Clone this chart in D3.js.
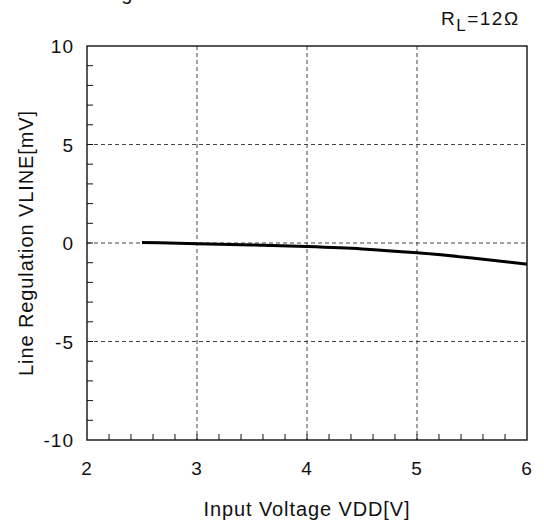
<!DOCTYPE html>
<html>
<head>
<meta charset="utf-8">
<script src="https://cdn.jsdelivr.net/npm/d3@7"></script>
<style>
  body { margin: 0; background: #fff; }
  svg text { font-family: "Liberation Sans", Arial, sans-serif; fill: #111; }
</style>
</head>
<body>
<div id="chart"></div>
<script>
// curve
var vdd = [2.5, 3, 3.5, 4, 4.5, 5, 5.5, 6]
var vline = [0.03, -0.04, -0.1, -0.18, -0.3, -0.5, -0.76, -1.07]

var xTicks = [2, 3, 4, 5, 6]
var yTicks = [-10, -5, 0, 5, 10]

var width = 544, height = 522
var margin = {left: 87, right: 17, top: 46, bottom: 82}

var svg = d3.select('#chart').append('svg')
  .attr('width', width).attr('height', height)

var x = d3.scaleLinear().domain([2, 6]).range([margin.left, width - margin.right])
var y = d3.scaleLinear().domain([-10, 10]).range([height - margin.bottom, margin.top])

// title, mostly off the top of the picture
svg.append('text').attr('x', 46).attr('y', 0)
  .style('font-size', '20px').style('letter-spacing', '0.9px').text('Line Regulation')

// grid
svg.append('g').selectAll('line')
  .data(xTicks.slice(1, -1)).join('line')
  .attr('x1', d => x(d)).attr('x2', d => x(d))
  .attr('y1', y(10)).attr('y2', y(-10))
  .attr('stroke', '#444').attr('stroke-dasharray', '4,3')
svg.append('g').selectAll('line')
  .data(yTicks.slice(1, -1)).join('line')
  .attr('y1', d => y(d)).attr('y2', d => y(d))
  .attr('x1', x(2)).attr('x2', x(6))
  .attr('stroke', '#444').attr('stroke-dasharray', '4,3')

// minor ticks, pointing inward
svg.append('g').selectAll('line')
  .data(d3.range(2.2, 6, 0.2)).join('line')
  .attr('x1', d => x(d)).attr('x2', d => x(d))
  .attr('y1', y(-10)).attr('y2', y(-10) - 6)
  .attr('stroke', '#111')
svg.append('g').selectAll('line')
  .data(d3.range(-9, 10, 1)).join('line')
  .attr('y1', d => y(d)).attr('y2', d => y(d))
  .attr('x1', x(2)).attr('x2', x(2) + 6)
  .attr('stroke', '#111')

// frame
svg.append('rect')
  .attr('x', x(2)).attr('y', y(10))
  .attr('width', x(6) - x(2)).attr('height', y(-10) - y(10))
  .attr('fill', 'none').attr('stroke', '#111').attr('stroke-width', 1.4)

// tick labels
svg.append('g').selectAll('text')
  .data(xTicks).join('text')
  .attr('x', d => x(d)).attr('y', y(-10) + 35)
  .attr('text-anchor', 'middle').style('font-size', '19px').style('letter-spacing', '1px')
  .text(d => d)
svg.append('g').selectAll('text')
  .data(yTicks).join('text')
  .attr('x', x(2) - 13).attr('y', d => y(d) + 7)
  .attr('text-anchor', 'end').style('font-size', '19px').style('letter-spacing', '1px')
  .text(d => d)

// axis titles
svg.append('text')
  .attr('x', (x(2) + x(6)) / 2).attr('y', 516)
  .attr('text-anchor', 'middle').style('font-size', '20px').style('letter-spacing', '0.9px')
  .text('Input Voltage VDD[V]')
svg.append('text')
  .attr('transform', 'translate(33,' + y(0) + ') rotate(-90)')
  .attr('text-anchor', 'middle').style('font-size', '20px').style('letter-spacing', '0.9px')
  .text('Line Regulation VLINE[mV]')

// condition label
var rl = svg.append('text').attr('x', 441).attr('y', 25)
  .style('font-size', '19px').style('letter-spacing', '1.5px')
rl.append('tspan').text('R')
rl.append('tspan').attr('dy', 6).style('font-size', '17px').text('L')
rl.append('tspan').attr('dy', -6).text('=12Ω')

// curve
var line = d3.line().x((d, i) => x(vdd[i])).y(d => y(d)).curve(d3.curveMonotoneX)
svg.append('path').datum(vline)
  .attr('d', line).attr('fill', 'none')
  .attr('stroke', '#000').attr('stroke-width', 3)
</script>
</body>
</html>
